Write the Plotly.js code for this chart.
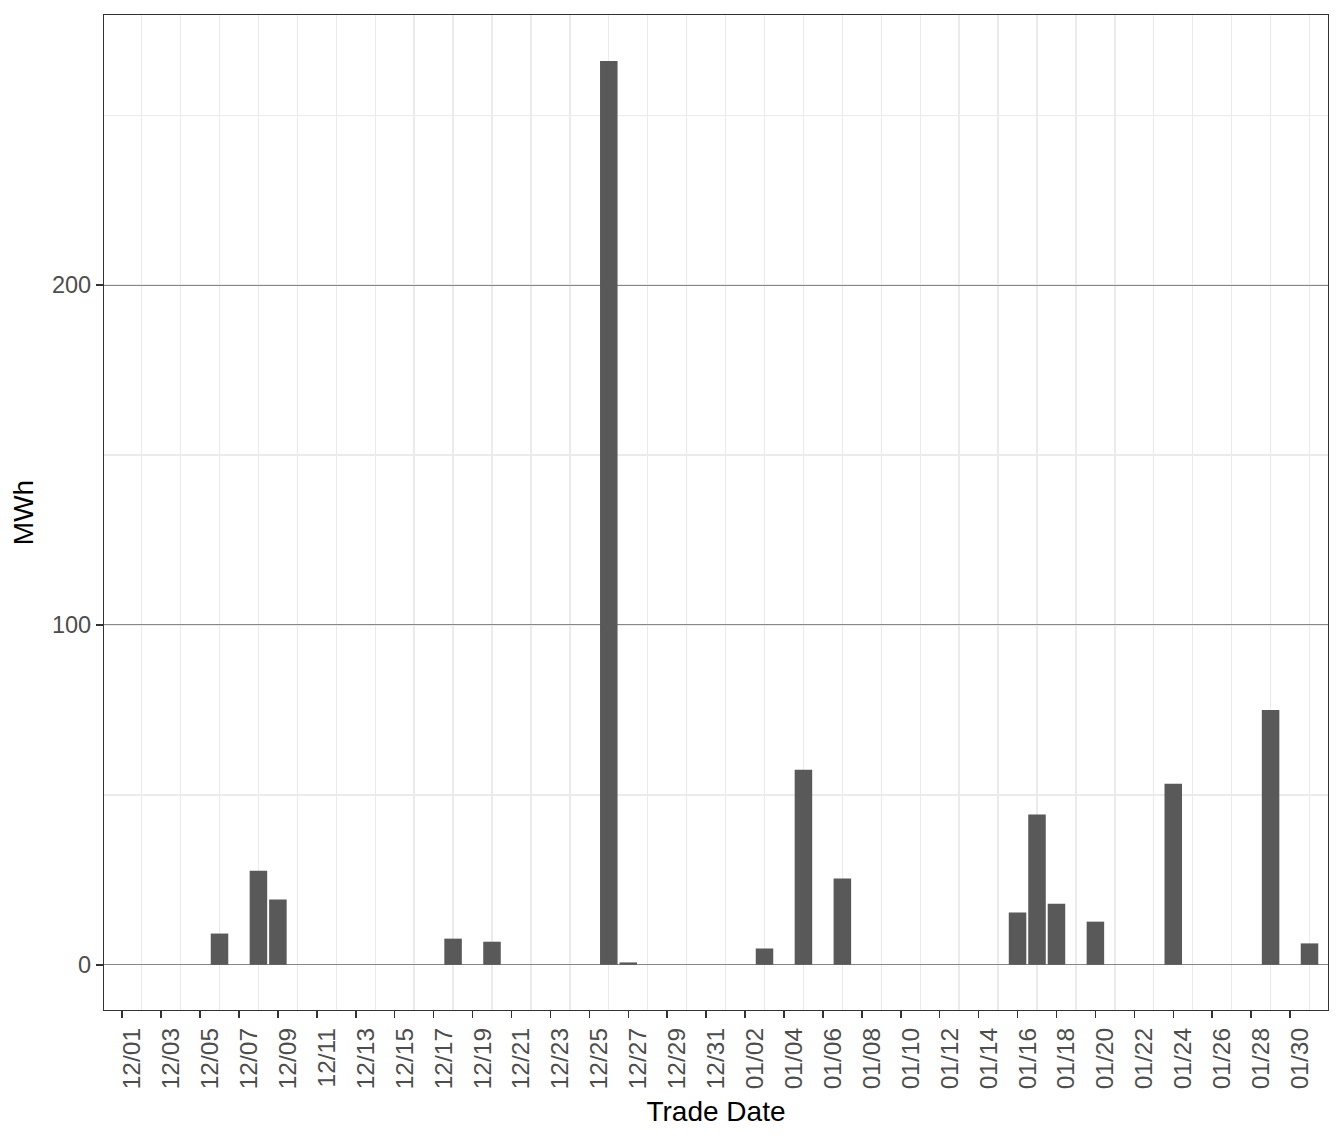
<!DOCTYPE html>
<html>
<head>
<meta charset="utf-8">
<script src="https://cdn.plot.ly/plotly-3.0.1.min.js"></script>
<style>
  html, body { margin: 0; padding: 0; background: #fff; }
  #plot { width: 1344px; height: 1142px; }
</style>
</head>
<body>
<div id="plot"></div>
<script>
var tradeDates = ['2023-12-06', '2023-12-08', '2023-12-09', '2023-12-18', '2023-12-20',
                  '2023-12-26', '2023-12-27', '2024-01-03', '2024-01-05', '2024-01-07',
                  '2024-01-16', '2024-01-17', '2024-01-18', '2024-01-20', '2024-01-24',
                  '2024-01-29', '2024-01-31'];
var mwh = [9.2, 27.7, 19.2, 7.7, 6.8,
           266.0, 0.7, 4.8, 57.4, 25.4,
           15.4, 44.2, 18.0, 12.7, 53.3,
           75.0, 6.3];

var yTicks = [0, 100, 200];

var DAY = 86400000;
var firstDay = Date.UTC(2023, 11, 1);

function toDateStr(ms) {
  return new Date(ms).toISOString().slice(0, 19).replace('T', ' ');
}

var fontFamily = 'Liberation Sans, Arial, sans-serif';

var trace = {
  type: 'bar',
  x: tradeDates,
  y: mwh,
  width: 0.9 * DAY,
  marker: { color: '#595959', line: { width: 0 } },
  hoverinfo: 'none'
};

var layout = {
  width: 1344,
  height: 1142,
  margin: { l: 103.5, r: 15.5, t: 15, b: 132 },
  paper_bgcolor: '#fff',
  plot_bgcolor: '#fff',
  showlegend: false,
  font: { family: fontFamily },
  xaxis: {
    type: 'date',
    range: [toDateStr(firstDay - 0.934 * DAY), toDateStr(firstDay + 61.95 * DAY)],
    tickmode: 'linear',
    tick0: '2023-12-01',
    dtick: 2 * DAY,
    tickformat: '%m/%d',
    tickangle: -90,
    ticks: 'outside',
    ticklen: 7,
    tickwidth: 1.5,
    tickcolor: '#333',
    ticklabelshift: 10,
    tickfont: { size: 24.5, color: '#4d4d4d', family: fontFamily },
    showgrid: false,
    minor: {
      tick0: '2023-12-02',
      dtick: 2 * DAY,
      showgrid: true,
      gridcolor: '#ebebeb',
      gridwidth: 1.4,
      ticks: ''
    },
    showline: true,
    mirror: true,
    linecolor: '#333',
    linewidth: 1.2,
    zeroline: false,
    title: { text: 'Trade Date', font: { size: 28, color: '#000', family: fontFamily }, standoff: 13 }
  },
  yaxis: {
    range: [-13.3, 279.5],
    tickmode: 'array',
    tickvals: yTicks,
    ticktext: yTicks.map(String),
    ticks: 'outside',
    ticklen: 7,
    tickwidth: 1.5,
    tickcolor: '#333',
    tickfont: { size: 23.5, color: '#4d4d4d', family: fontFamily },
    showgrid: true,
    gridcolor: '#6e6e6e',
    gridwidth: 0.8,
    minor: {
      tickmode: 'linear',
      tick0: 0,
      dtick: 50,
      showgrid: true,
      gridcolor: '#ebebeb',
      gridwidth: 1.4,
      ticks: ''
    },
    showline: true,
    mirror: true,
    linecolor: '#333',
    linewidth: 1.2,
    zeroline: false,
    title: { text: 'MWh', font: { size: 28, color: '#000', family: fontFamily }, standoff: 10 }
  }
};

Plotly.newPlot('plot', [trace], layout, { displayModeBar: false, staticPlot: true });
</script>
</body>
</html>
